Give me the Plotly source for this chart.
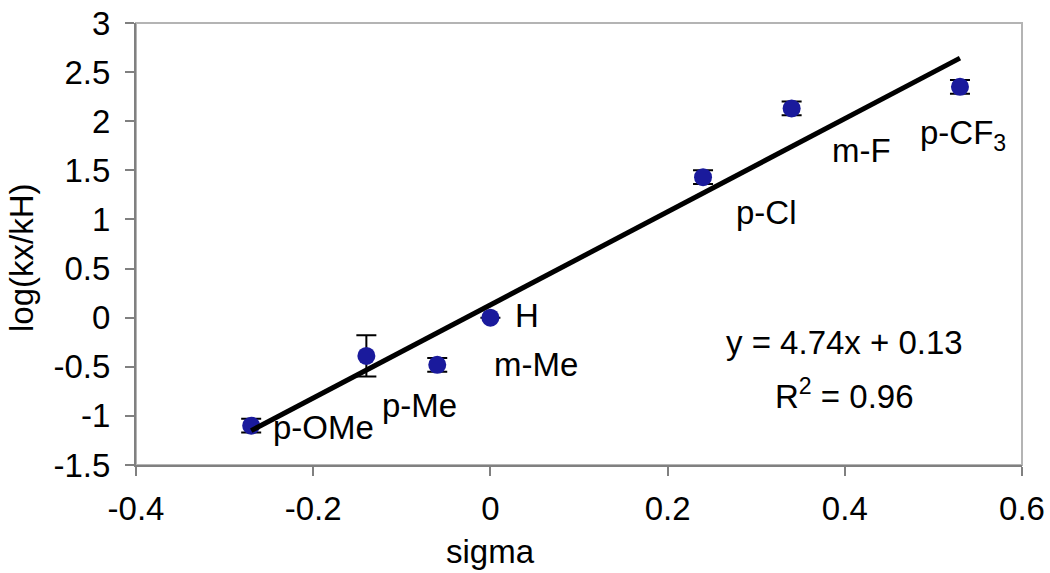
import plotly.graph_objects as go

substituents = ["p-OMe", "p-Me", "m-Me", "H", "p-Cl", "m-F", "p-CF<sub>3</sub>"]
sigma = [-0.27, -0.14, -0.06, 0.0, 0.24, 0.34, 0.53]
log_ratio = [-1.10, -0.39, -0.48, 0.0, 1.43, 2.13, 2.35]
log_err = [0.07, 0.21, 0.07, 0.0, 0.07, 0.07, 0.07]

slope = 4.74
intercept = 0.13
r2 = 0.96

x_ticks = [-0.4, -0.2, 0, 0.2, 0.4, 0.6]
x_tick_text = ["-0.4", "-0.2", "0", "0.2", "0.4", "0.6"]
y_ticks = [-1.5, -1, -0.5, 0, 0.5, 1, 1.5, 2, 2.5, 3]
y_tick_text = ["-1.5", "-1", "-0.5", "0", "0.5", "1", "1.5", "2", "2.5", "3"]

# label offsets (pixels) relative to each point
label_dx = [20, 14, 55, 23, 31, 38, -42]
label_dy = [-2, -50, 0, 2, -35, -42, -48]

FONT = "Arial, Liberation Sans, sans-serif"
FS = 33

fig = go.Figure()

fig.add_trace(go.Scatter(
    x=sigma, y=log_ratio, mode="markers",
    marker=dict(size=18, color="#1A1A9C"),
    error_y=dict(type="data", array=log_err, visible=True, color="black",
                 thickness=2, width=10),
    showlegend=False,
))

fit_x = [min(sigma), max(sigma)]
fit_y = [slope * v + intercept for v in fit_x]
fig.add_trace(go.Scatter(
    x=fit_x, y=fit_y, mode="lines",
    line=dict(color="black", width=5), showlegend=False,
))

for name, xv, yv, dx, dy in zip(substituents, sigma, log_ratio, label_dx, label_dy):
    fig.add_annotation(x=xv, y=yv, text=name, showarrow=False,
                       xanchor="left", yanchor="middle", xshift=dx, yshift=dy,
                       font=dict(family=FONT, size=FS, color="black"))

fig.add_annotation(x=0.4, y=-0.25, text=f"y = {slope}x + {intercept}", showarrow=False,
                   xanchor="center", yanchor="middle",
                   font=dict(family=FONT, size=FS, color="black"))
fig.add_annotation(x=0.4, y=-0.78, text=f"R<sup>2</sup> = {r2}", showarrow=False,
                   xanchor="center", yanchor="middle",
                   font=dict(family=FONT, size=FS, color="black"))

# axis titles
fig.add_annotation(xref="paper", yref="paper", x=0.4, y=-0.195, text="sigma",
                   showarrow=False, xanchor="center", yanchor="middle",
                   font=dict(family=FONT, size=FS, color="black"))
fig.add_annotation(xref="paper", yref="paper", x=-0.129, y=0.47, text="log(kx/kH)",
                   textangle=-90, showarrow=False, xanchor="center", yanchor="middle",
                   font=dict(family=FONT, size=FS, color="black"))

# frame (top/right lighter)
fig.add_shape(type="rect", xref="paper", yref="paper", x0=0, y0=0, x1=1, y1=1,
              line=dict(color="#b4b4b4", width=2), layer="below")

fig.update_layout(
    width=1050, height=573,
    margin=dict(l=136, r=28, t=23, b=108),
    paper_bgcolor="white", plot_bgcolor="white",
    font=dict(family=FONT, size=FS, color="black"),
    xaxis=dict(range=[-0.4, 0.6], tickvals=x_ticks, ticktext=x_tick_text,
               showgrid=False, zeroline=False, showline=True, linecolor="#808080",
               linewidth=2, ticks="outside", ticklen=9, tickcolor="#808080",
               tickwidth=2, tickfont=dict(size=FS), automargin=False,
               ticklabelstandoff=4),
    yaxis=dict(range=[-1.5, 3], tickvals=y_ticks, ticktext=y_tick_text,
               showgrid=False, zeroline=False, showline=True, linecolor="#808080",
               linewidth=2, ticks="outside", ticklen=9, tickcolor="#808080",
               tickwidth=2, tickfont=dict(size=FS), automargin=False,
               ticklabelstandoff=8),
)

fig.write_html("out.html", config={"displayModeBar": False},
               post_script="document.body.style.margin='0';document.body.style.overflow='hidden';")
